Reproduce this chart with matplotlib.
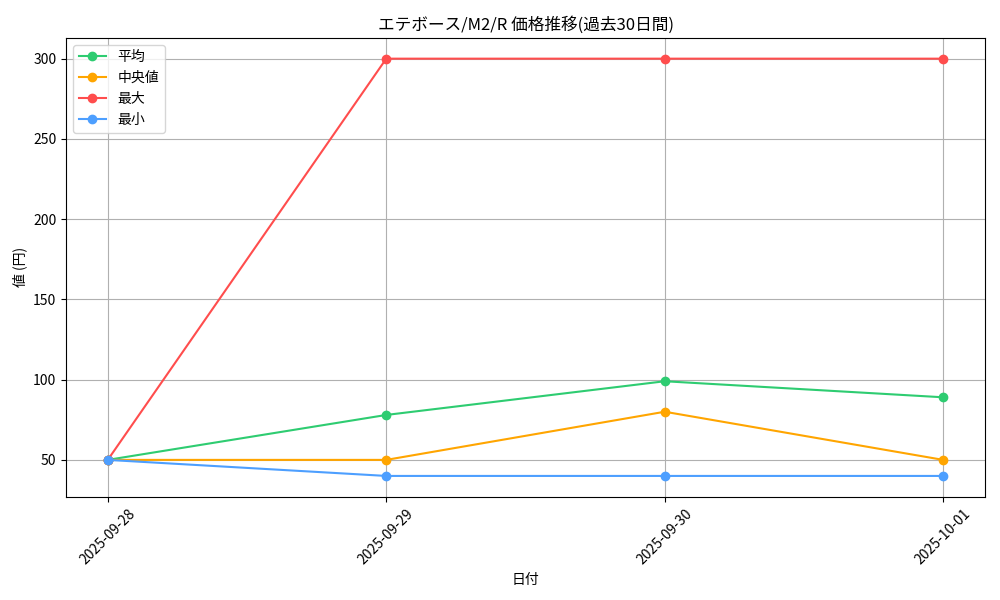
import matplotlib
matplotlib.use("Agg")
import matplotlib.pyplot as plt

# 価格推移データ (過去30日間)
dates = ["2025-09-28", "2025-09-29", "2025-09-30", "2025-10-01"]
avg_prices = [50, 78, 99, 89]
median_prices = [50, 50, 80, 50]
max_prices = [50, 300, 300, 300]
min_prices = [50, 40, 40, 40]

plt.rcParams["font.family"] = ["Noto Sans CJK JP", "DejaVu Sans"]

fig, ax = plt.subplots(figsize=(10, 6), dpi=100)

ax.plot(dates, avg_prices, marker="o", color="#2ecc71", label="平均")
ax.plot(dates, median_prices, marker="o", color="#ffa500", label="中央値")
ax.plot(dates, max_prices, marker="o", color="#ff4d4d", label="最大")
ax.plot(dates, min_prices, marker="o", color="#4d9fff", label="最小")

ax.set_title("エテボース/M2/R 価格推移(過去30日間)")
ax.set_xlabel("日付")
ax.set_ylabel("値 (円)")
ax.legend(loc="upper left")
ax.grid(True)
plt.xticks(rotation=45)

# 参照画像に合わせて余白を固定
fig.subplots_adjust(left=0.066, right=0.985, top=0.937, bottom=0.172)
plt.savefig("out.png", dpi=100)
